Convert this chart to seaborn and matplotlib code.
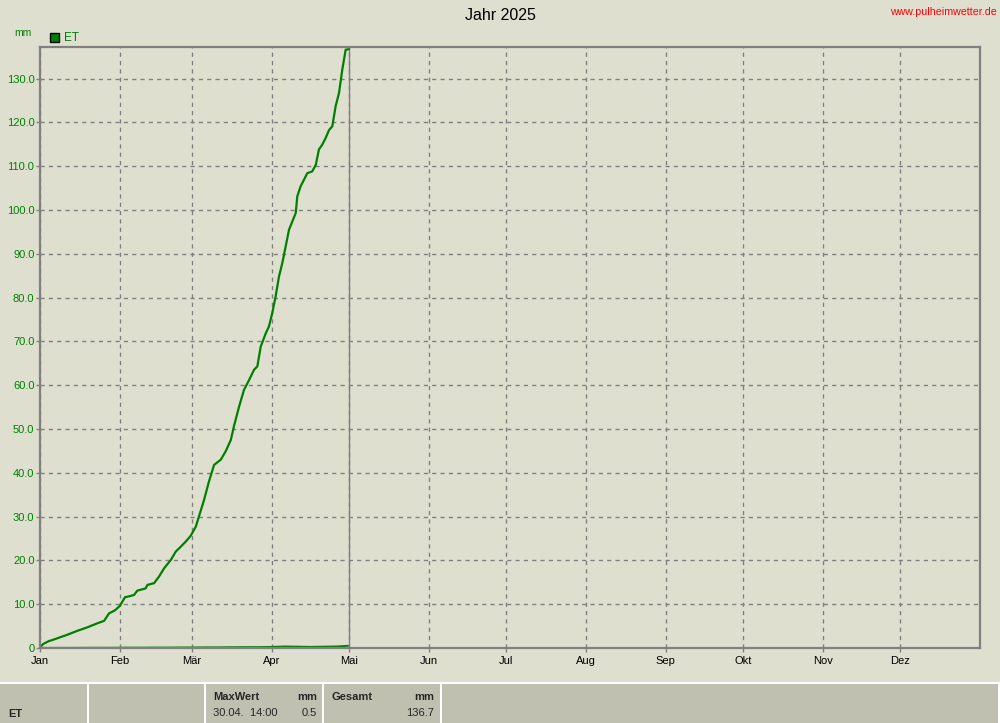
import numpy as np
import pandas as pd
import seaborn as sns
import matplotlib
matplotlib.use("Agg")
import matplotlib.pyplot as plt
from matplotlib.patches import Rectangle

# ---------------- data ----------------
month_labels = ["Jan", "Feb", "Mär", "Apr", "Mai", "Jun", "Jul", "Aug", "Sep", "Okt", "Nov", "Dez"]
month_starts = [0, 31, 59, 90, 120, 151, 181, 212, 243, 273, 304, 334]

# cumulative ET (mm) vs. day of year
et_days = [0.0, 0.4, 1.2, 3.5, 4.7, 6.6, 10.5, 14.4, 18.3, 22.1, 24.9, 26.8, 29.1, 31.0,
           33.0, 33.9, 36.5, 37.8, 41.0, 41.7, 44.3, 46.2, 48.2, 50.8, 52.7, 54.6, 56.6,
           58.5, 60.5, 63.7, 65.6, 67.6, 70.2, 72.1, 74.1, 75.3, 77.3, 79.2, 81.2, 83.1,
           84.4, 85.7, 87.7, 88.9, 90.2, 91.5, 92.8, 94.1, 95.4, 96.7, 98.0, 99.3, 99.9,
           101.2, 102.5, 103.8, 105.7, 107.1, 108.3, 109.6, 110.9, 112.2, 113.5, 114.8,
           116.1, 117.4, 118.7, 120.0]
et_cum = [0.0, 0.4, 0.9, 1.6, 1.8, 2.2, 3.0, 3.9, 4.7, 5.6, 6.2, 7.9, 8.6, 9.6,
          11.6, 11.7, 12.1, 13.1, 13.6, 14.4, 14.8, 16.3, 18.2, 20.1, 22.0, 23.1, 24.3,
          25.6, 27.7, 33.8, 38.0, 41.8, 43.0, 44.9, 47.5, 50.6, 55.1, 58.9, 61.2, 63.5,
          64.3, 68.8, 71.9, 73.4, 76.5, 80.3, 84.8, 87.9, 91.7, 95.5, 97.4, 99.3, 103.1,
          105.4, 106.9, 108.4, 108.8, 110.3, 113.8, 114.9, 116.4, 118.2, 119.1, 123.7,
          126.7, 132.1, 136.6, 136.7]

# hourly ET rate (mm), daily peaks sampled
rate_days = [0, 5, 10, 15, 20, 25, 30, 35, 40, 45, 50, 55, 60, 65, 70, 75, 80, 85,
             90, 95, 100, 105, 110, 115, 119.6]
rate_vals = [0.02, 0.03, 0.03, 0.04, 0.05, 0.05, 0.06, 0.08, 0.08, 0.10, 0.10, 0.12,
             0.12, 0.15, 0.15, 0.18, 0.2, 0.2, 0.25, 0.35, 0.3, 0.25, 0.3, 0.35, 0.5]

# footer table
footer_name = "ET"
max_label, max_unit, max_time, max_value = "MaxWert", "mm", "30.04.  14:00", "0.5"
sum_label, sum_unit, sum_value = "Gesamt", "mm", "136.7"

title = "Jahr 2025"
site = "www.pulheimwetter.de"

# ---------------- style ----------------
BG = "#DFDFD0"
FOOT = "#C0C0B0"
GREEN = "#008000"
GREY = "#808080"

sns.set_theme(style="white")
plt.rcParams["font.family"] = ["Liberation Sans", "DejaVu Sans"]

W, H = 1000, 723
fig = plt.figure(figsize=(W / 100, H / 100), dpi=100, facecolor=BG)


def fx(px):
    return px / W


def fy(py):
    return 1 - py / H


ax = fig.add_axes([fx(40), fy(648), fx(980) - fx(40), fy(47) - fy(648)])
ax.set_facecolor(BG)

df_cum = pd.DataFrame({"day": et_days, "mm": et_cum})
df_rate = pd.DataFrame({"day": rate_days, "mm": rate_vals})

sns.lineplot(data=df_rate, x="day", y="mm", ax=ax, color=GREEN, lw=1.4,
             estimator=None, sort=False, legend=False, zorder=3)
sns.lineplot(data=df_cum, x="day", y="mm", ax=ax, color=GREEN, lw=1.6,
             estimator=None, sort=False, legend=False, zorder=4)

ax.axvline(120, color=GREY, lw=1.0, zorder=2)

ax.set_xlim(0, 365)
ax.set_ylim(0, 137.2)
ax.set_xticks(month_starts)
ax.set_xticklabels(month_labels)
yt = list(range(0, 140, 10))
ax.set_yticks(yt)
ax.set_yticklabels(["0" if v == 0 else f"{v:.1f}" for v in yt])
ax.set_xlabel("")
ax.set_ylabel("")

ax.grid(True, color=GREY, lw=1.0, ls=(0, (3, 3)))
ax.set_axisbelow(True)
for s in ax.spines.values():
    s.set_color(GREY)
    s.set_linewidth(1.6)
    s.set_zorder(5)

ax.tick_params(axis="x", length=3, width=1, color=GREY, pad=3, labelsize=8, labelcolor="black",
               bottom=True)
ax.tick_params(axis="y", length=3, width=1, color=GREY, pad=1, labelsize=8, labelcolor=GREEN,
               left=True)

# title & texts
fig.text(0.5, fy(15), title, ha="center", va="center", fontsize=11.5, color="black")
fig.text(fx(997), fy(12), site, ha="right", va="center", fontsize=7.7, color="red")
fig.text(fx(14), fy(33), "mm", ha="left", va="center", fontsize=7.5, color=GREEN)

# legend
fig.add_artist(Rectangle((fx(50), fy(42)), fx(9), 9 / H, facecolor=GREEN, edgecolor="black",
                         lw=1.0, transform=fig.transFigure))
fig.text(fx(64), fy(38), "ET", ha="left", va="center", fontsize=8.5, color=GREEN)

# footer table
fig.add_artist(Rectangle((0, 0), 1, fy(683), facecolor=FOOT, edgecolor="none",
                         transform=fig.transFigure))
fig.add_artist(Rectangle((0, fy(684)), 1, 2 / H, facecolor="white", edgecolor="none",
                         transform=fig.transFigure))
for xb in [87, 204, 322, 440]:
    fig.add_artist(Rectangle((fx(xb), 0), 2 / W, fy(683), facecolor="white", edgecolor="none",
                             transform=fig.transFigure))
fig.add_artist(Rectangle((fx(998), 0), 2 / W, fy(683), facecolor="white", edgecolor="none",
                         transform=fig.transFigure))

fs = 8
fig.text(fx(8), fy(714), footer_name, ha="left", va="center", fontsize=fs, weight="bold")
fig.text(fx(213), fy(697), max_label, ha="left", va="center", fontsize=fs, weight="bold")
fig.text(fx(317), fy(697), max_unit, ha="right", va="center", fontsize=fs, weight="bold")
fig.text(fx(213), fy(713), max_time, ha="left", va="center", fontsize=fs)
fig.text(fx(317), fy(713), max_value, ha="right", va="center", fontsize=fs)
fig.text(fx(331), fy(697), sum_label, ha="left", va="center", fontsize=fs, weight="bold")
fig.text(fx(434), fy(697), sum_unit, ha="right", va="center", fontsize=fs, weight="bold")
fig.text(fx(434), fy(713), sum_value, ha="right", va="center", fontsize=fs)

fig.savefig("out.png", dpi=100, facecolor=BG)
